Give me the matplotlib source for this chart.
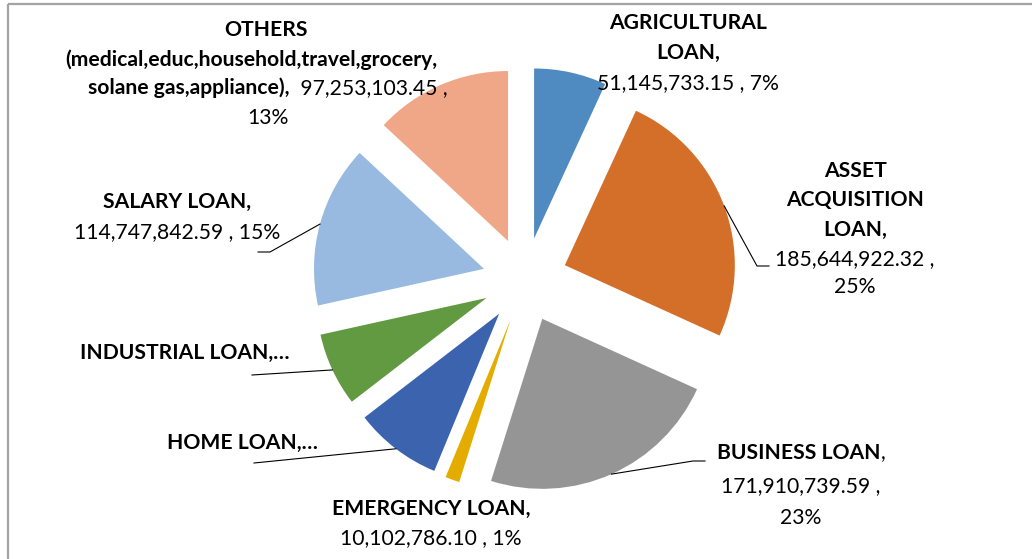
#!/usr/bin/env python3
"""Loan portfolio breakdown - exploded pie with Excel-style data labels."""

import numpy as np
import matplotlib
matplotlib.use("Agg")
import matplotlib.pyplot as plt
from matplotlib.patches import Rectangle

# categories, clockwise from 12 o'clock
categories = ["AGRICULTURAL LOAN", "ASSET ACQUISITION LOAN", "BUSINESS LOAN",
              "EMERGENCY LOAN", "HOME LOAN", "INDUSTRIAL LOAN", "SALARY LOAN",
              "OTHERS (medical,educ,household,travel,grocery,solane gas,appliance)"]
# amounts (home / industrial are truncated in the source)
amounts = [51145733.15, 185644922.32, 171910739.59, 10102786.10,
           62000000.00, 52000000.00, 114747842.59, 97253103.45]
colors = ["#4F8BC0", "#D46F2A", "#959595", "#E5AC00",
          "#3C64AE", "#629A41", "#98B9E0", "#F0A788"]

W, H = 1032, 559
FONT = "Lato"
FS = 15.2
R = 170

fig = plt.figure(figsize=(W / 100, H / 100), dpi=100)
ax = fig.add_axes([0, 0, 1, 1])

# pie in pixel coordinates (y axis points down, so counterclock in data = clockwise on screen)
# note: matplotlib's explode offset is in data units, so scale by the radius
wedges, _ = ax.pie(amounts, colors=colors, startangle=-90, counterclock=True,
                   explode=[0.25 * R] * len(amounts), radius=R, center=(525, 280),
                   wedgeprops=dict(linewidth=0))
ax.set_xlim(0, W)
ax.set_ylim(H, 0)
ax.set_aspect("auto")
ax.axis("off")

# chart border
ax.add_patch(Rectangle((7.5, 3.5), W + 20, H + 20, fill=False, edgecolor="#A3A3A3",
                       linewidth=1.6, zorder=0))

total = sum(amounts)
pcts = [f"{round(a / total * 100):.0f}%" for a in amounts]
vals = [f"{a:,.2f}" for a in amounts]

renderer = fig.canvas.get_renderer()


def mixed_line(x, y, parts, ha="center"):
    """Draw one text line made of (text, bold) parts, aligned at x."""
    texts = [ax.text(0, y, s, fontsize=FS, family=FONT, fontweight="bold" if b else "normal",
                     va="center", ha="left", color="black") for s, b in parts]
    widths = [t.get_window_extent(renderer).width for t in texts]
    full = sum(widths)
    start = x - full / 2 if ha == "center" else (x - full if ha == "right" else x)
    for t, w in zip(texts, widths):
        t.set_x(start)
        start += w


def mid_point(i):
    w = wedges[i]
    th = np.deg2rad((w.theta1 + w.theta2) / 2)
    return w.center[0] + w.r * np.cos(th), w.center[1] + w.r * np.sin(th)


def leader(i, pts):
    x0, y0 = mid_point(i)
    xs = [x0] + [p[0] for p in pts]
    ys = [y0] + [p[1] for p in pts]
    ax.plot(xs, ys, color="black", linewidth=0.8, zorder=3)


# AGRICULTURAL
mixed_line(688, 23, [("AGRICULTURAL", True)])
mixed_line(688, 53, [("LOAN,", True)])
mixed_line(688, 83, [(f"{vals[0]} , {pcts[0]}", False)])

# ASSET ACQUISITION
mixed_line(855, 171, [("ASSET", True)])
mixed_line(855, 200, [("ACQUISITION", True)])
mixed_line(855, 230, [("LOAN,", True)])
mixed_line(855, 259, [(f"{vals[1]} ,", False)])
mixed_line(855, 287, [(pcts[1], False)])
leader(1, [(757, 266), (769, 266)])

# BUSINESS
mixed_line(801, 453, [("BUSINESS LOAN", True), (",", False)])
mixed_line(801, 486, [(f"{vals[2]} ,", False)])
mixed_line(801, 518, [(pcts[2], False)])
leader(2, [(693, 461), (705, 461)])

# EMERGENCY
mixed_line(431, 509, [("EMERGENCY LOAN,", True)])
mixed_line(431, 538, [(f"{vals[3]} , {pcts[3]}", False)])

# HOME / INDUSTRIAL (truncated labels)
mixed_line(318, 443, [("HOME LOAN,\u2026", True)], ha="right")
leader(4, [(254, 463)])
mixed_line(289, 353, [("INDUSTRIAL LOAN,\u2026", True)], ha="right")
leader(5, [(252, 375)])

# SALARY
mixed_line(177, 202, [("SALARY LOAN,", True)])
mixed_line(177, 232, [(f"{vals[6]} , {pcts[6]}", False)])
leader(6, [(270, 252), (258, 252)])

# OTHERS
mixed_line(266, 30, [("OTHERS", True)])
mixed_line(251, 60, [("(medical,educ,household,travel,grocery,", True)])
mixed_line(268, 88, [("solane gas,appliance), ", True), (f" {vals[7]} ,", False)])
mixed_line(268, 118, [(pcts[7], False)])

fig.savefig("out.png", dpi=100)
